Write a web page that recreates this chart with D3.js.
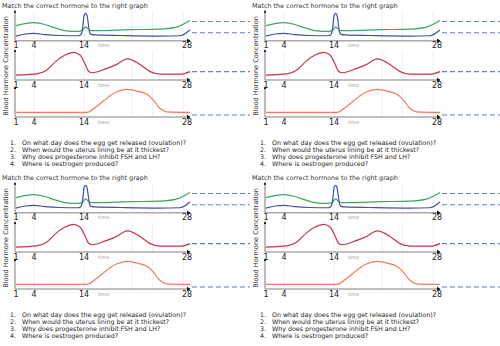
<!DOCTYPE html>
<html>
<head>
<meta charset="utf-8">
<style>
  body { margin: 0; background: #fff; font-family: "DejaVu Sans", sans-serif; }
</style>
</head>
<body>
<script src="https://d3js.org/d3.v7.min.js"></script>
<div id="sheet"></div>
<script>
// worksheet text
var titleText = "Match the correct hormone to the right graph";
var yLabel = "Blood Hormone Concentration";
var questions = [
  "On what day does the egg get released (ovulation)?",
  "When would the uterus lining be at it thickest?",
  "Why does progesterone inhibit FSH and LH?",
  "Where is oestrogen produced?"
];

// day ticks and faint grid days
var tickDays = [1, 4, 14, 28];
var gridDays = [4, 14, 20.5, 23.3, 27.5];

// hormone curves, [day, level]
var lhSeries = [[1,1.6],[2.5,2.3],[4,2.55],[6.2,2.1],[9.2,1.8],[12.8,1.7],[13.3,2.0],[13.6,3.0],
  [13.8,5.5],[14,8.6],[14.2,9.4],[14.4,8.8],[14.6,5.5],[14.75,3.0],[14.95,2.2],[15.5,2.0],[18.9,1.8],
  [24.3,1.6],[27,1.7],[28.4,3.7]];
var fshSeries = [[1,5.2],[2.5,5.9],[4,6.2],[6.2,5.6],[8.2,4.4],[10.2,3.5],[12.8,3.2],[13.7,3.6],
  [14.0,4.3],[14.25,4.8],[14.5,4.2],[14.9,3.5],[15.5,3.5],[20.3,3.8],[24.3,4.0],[26.4,4.6],[28.4,7.0]];
var redSeries = [[1,1.7],[4.5,2.1],[6.5,3.4],[8.5,6.6],[10.2,8.6],[11.9,9.5],[13.2,8.6],[14.1,5.75],
  [14.6,3.1],[15.1,2.5],[17.1,4.0],[18.3,5.2],[19.9,7.3],[21.7,5.2],[23,2.9],[24.4,2.0],[27.1,2.0],[28.4,2.9]];
var salmonSeries = [[1,1.6],[14.4,1.6],[15.7,3.6],[17.1,6.5],[18.4,8.6],[19.8,9.5],[21.1,9.0],[22.5,7.9],
  [23.4,5.9],[24.3,3.0],[25.2,1.8],[28.4,1.6]];

// dashed answer lines per panel
var answerLevels = [[6.6, 2.76], [2.9], [0.7]];

var W = 500, H = 346;
var svg = d3.select("#sheet").append("svg").attr("width", W).attr("height", H);

var defs = svg.append("defs");
defs.append("marker").attr("id", "arr").attr("viewBox", "0 0 6 6")
  .attr("refX", 5).attr("refY", 3).attr("markerWidth", 4).attr("markerHeight", 4)
  .attr("orient", "auto")
  .append("path").attr("d", "M0,0L6,3L0,6Z").attr("fill", "#111");

var panels = [
  {axisY: 40.7, series: [{d: fshSeries, c: "#3ea862"}, {d: lhSeries, c: "#4450a8"}], answers: answerLevels[0]},
  {axisY: 80, series: [{d: redSeries, c: "#c93448"}], answers: answerLevels[1]},
  {axisY: 117, series: [{d: salmonSeries, c: "#f37a5c"}], answers: answerLevels[2]}
];

function drawSheet(g) {
  var x = d3.scaleLinear().domain(tickDays).range([16, 34, 84, 187]);
  var x0 = 15, xEnd = 190;

  g.append("text").attr("x", 2).attr("y", 7.5)
    .style("font-size", "6.4px").attr("fill", "#333").text(titleText);

  g.append("text")
    .attr("transform", "translate(7.5,66) rotate(-90)")
    .attr("text-anchor", "middle")
    .style("font-size", "6.6px").attr("fill", "#333").text(yLabel);

  panels.forEach(function(p) {
    var y = d3.scaleLinear().domain([0, 10]).range([p.axisY, p.axisY - 29]);

    // faint grid
    g.selectAll(null).data(gridDays).join("line")
      .attr("x1", d => x(d)).attr("x2", d => x(d))
      .attr("y1", y(10)).attr("y2", y(0))
      .attr("stroke", "#e3eef8").attr("stroke-width", 0.8);

    // axes
    g.append("line").attr("x1", x0).attr("x2", x0).attr("y1", y(0)).attr("y2", y(10.4))
      .attr("stroke", "#444").attr("stroke-width", 0.7).attr("marker-end", "url(#arr)");
    g.append("line").attr("x1", x0).attr("x2", xEnd).attr("y1", y(0)).attr("y2", y(0))
      .attr("stroke", "#aaa").attr("stroke-width", 1.4);
    g.append("path")
      .attr("d", "M" + (xEnd - 3) + "," + (y(0) - 2.2) + "L" + (xEnd + 0.5) + "," + y(0) + "L" + (xEnd - 3) + "," + (y(0) + 2.2) + "Z")
      .attr("fill", "#111");

    g.selectAll(null).data(tickDays).join("text")
      .attr("x", d => x(d)).attr("y", y(0) + 7.5)
      .attr("text-anchor", "middle")
      .style("font-size", "8px").attr("fill", "#222").text(d => d);
    g.append("text").attr("x", 98).attr("y", y(0) + 6.5)
      .style("font-size", "5px").attr("fill", "#999").text("time");

    // curves
    var line = d3.line().x(d => x(d[0])).y(d => y(d[1])).curve(d3.curveMonotoneX);
    p.series.forEach(function(s) {
      g.append("path").attr("d", line(s.d)).attr("fill", "none")
        .attr("stroke", s.c).attr("stroke-width", 1.2);
    });

    // answer lines
    g.selectAll(null).data(p.answers).join("line")
      .attr("x1", 192).attr("x2", 250)
      .attr("y1", d => y(d)).attr("y2", d => y(d))
      .attr("stroke", "#5b80d4").attr("stroke-width", 1.1)
      .attr("stroke-dasharray", "5,3");
  });

  // questions
  var q = g.selectAll(null).data(questions).join("g")
    .attr("transform", (d, i) => "translate(0," + (144.5 + i * 7.3) + ")");
  q.append("text").attr("x", 16).attr("text-anchor", "end")
    .style("font-size", "6.3px").attr("fill", "#222").text((d, i) => (i + 1) + ".");
  q.append("text").attr("x", 22)
    .style("font-size", "6.3px").attr("fill", "#222").text(d => d);
}

[[0, 0], [250, 0], [0, 172], [250, 172]].forEach(function(o) {
  drawSheet(svg.append("g").attr("transform", "translate(" + o[0] + "," + o[1] + ")"));
});
</script>
</body>
</html>
